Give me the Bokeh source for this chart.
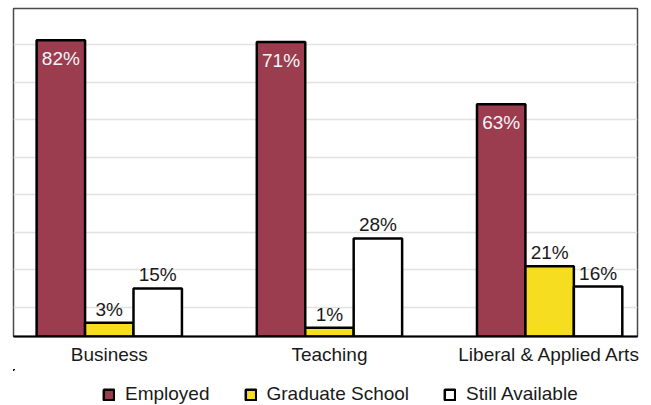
from bokeh.plotting import figure
from bokeh.layouts import column
from bokeh.models import ColumnDataSource, FixedTicker, Range1d, Legend, LegendItem
from bokeh.core.properties import value
from bokeh.embed import file_html
from bokeh.resources import INLINE

# ---- data (bar heights, labels as printed) ----
categories = ["Business", "Teaching", "Liberal & Applied Arts"]
series = ["Employed", "Graduate School", "Still Available"]
employed = [81.3, 80.8, 63.7]
graduate = [3.8, 2.4, 19.3]
available = [13.2, 26.9, 13.7]
employed_labels = ["82%", "71%", "63%"]
graduate_labels = ["3%", "1%", "21%"]
available_labels = ["15%", "28%", "16%"]
grid_levels = [8.0, 18.3, 28.6, 38.9, 49.2, 59.5, 69.7, 80.0]

RED = "#9c3c4f"
YELLOW = "#f6dd1f"
WHITE = "#ffffff"
FONT = "Liberation Sans"
FS = "19px"
BW = 0.22

p = figure(frame_width=624, frame_height=328,
           x_range=Range1d(-0.435, 2.399), y_range=Range1d(0, 90),
           output_backend="svg", toolbar_location=None,
           min_border_left=13, min_border_right=14, min_border_top=8, min_border_bottom=33,
           background_fill_color="white", border_fill_color="white")

p.yaxis.visible = False
p.xgrid.visible = False
p.ygrid.ticker = FixedTicker(ticks=grid_levels)
p.ygrid.grid_line_color = "#e2e2e2"
p.ygrid.grid_line_width = 1.5
p.outline_line_color = "#4a4a4a"
p.outline_line_width = 1.5

p.xaxis.ticker = FixedTicker(ticks=list(range(len(categories))))
p.xaxis.major_label_overrides = {i: c for i, c in enumerate(categories)}
p.xaxis.axis_line_color = "black"
p.xaxis.axis_line_width = 2
p.xaxis.major_tick_line_color = None
p.xaxis.minor_tick_line_color = None
p.xaxis.major_tick_out = 0
p.xaxis.major_tick_in = 0
p.xaxis.major_label_standoff = 7
p.xaxis.major_label_text_font = FONT
p.xaxis.major_label_text_font_size = FS
p.xaxis.major_label_text_color = "#1a1a1a"

offsets = [-BW, 0.0, BW]
values_list = [employed, graduate, available]
labels_list = [employed_labels, graduate_labels, available_labels]
colors = [RED, YELLOW, WHITE]

sources = []
for k in range(3):
    src = ColumnDataSource(dict(
        x=[i + offsets[k] for i in range(len(categories))],
        top=values_list[k],
        label=labels_list[k],
    ))
    sources.append(src)
    p.vbar(x="x", top="top", bottom=0, width=BW, source=src,
           fill_color=colors[k], line_color="black", line_width=2.5)
    if k == 0:
        p.text(x="x", y="top", text="label", source=src, text_color="#f5f5f5",
               text_font=value(FONT), text_font_size=FS, text_align="center",
               text_baseline="top", y_offset=8)
    else:
        p.text(x="x", y="top", text="label", source=src, text_color="#1a1a1a",
               text_font=value(FONT), text_font_size=FS, text_align="center",
               text_baseline="bottom", y_offset=-3)

# ---- legend strip below the chart (same series, its view kept far from the bars) ----
leg = figure(width=651, height=36, x_range=Range1d(100, 101), y_range=Range1d(-1000, -999),
             output_backend="svg", toolbar_location=None,
             x_axis_location=None, y_axis_location=None, min_border=0,
             background_fill_color="white", border_fill_color="white")
leg.grid.visible = False
leg.outline_line_color = None
leg_renderers = []
for k in range(3):
    r = leg.vbar(x="x", top="top", bottom=0, width=BW, source=sources[k],
                 fill_color=colors[k], line_color="black", line_width=2.5)
    leg_renderers.append(r)

legend = Legend(items=[LegendItem(label=series[k], renderers=[leg_renderers[k]]) for k in range(3)],
                orientation="horizontal", location=(89, 0), spacing=34,
                glyph_width=13, glyph_height=13, label_standoff=10,
                padding=2, margin=0, border_line_color=None,
                background_fill_alpha=0,
                label_text_font=FONT, label_text_font_size=FS,
                label_text_color="#1a1a1a")
leg.add_layout(legend)

page = column(p, leg, spacing=0)

open("out.html", "w").write(file_html(page, INLINE))
